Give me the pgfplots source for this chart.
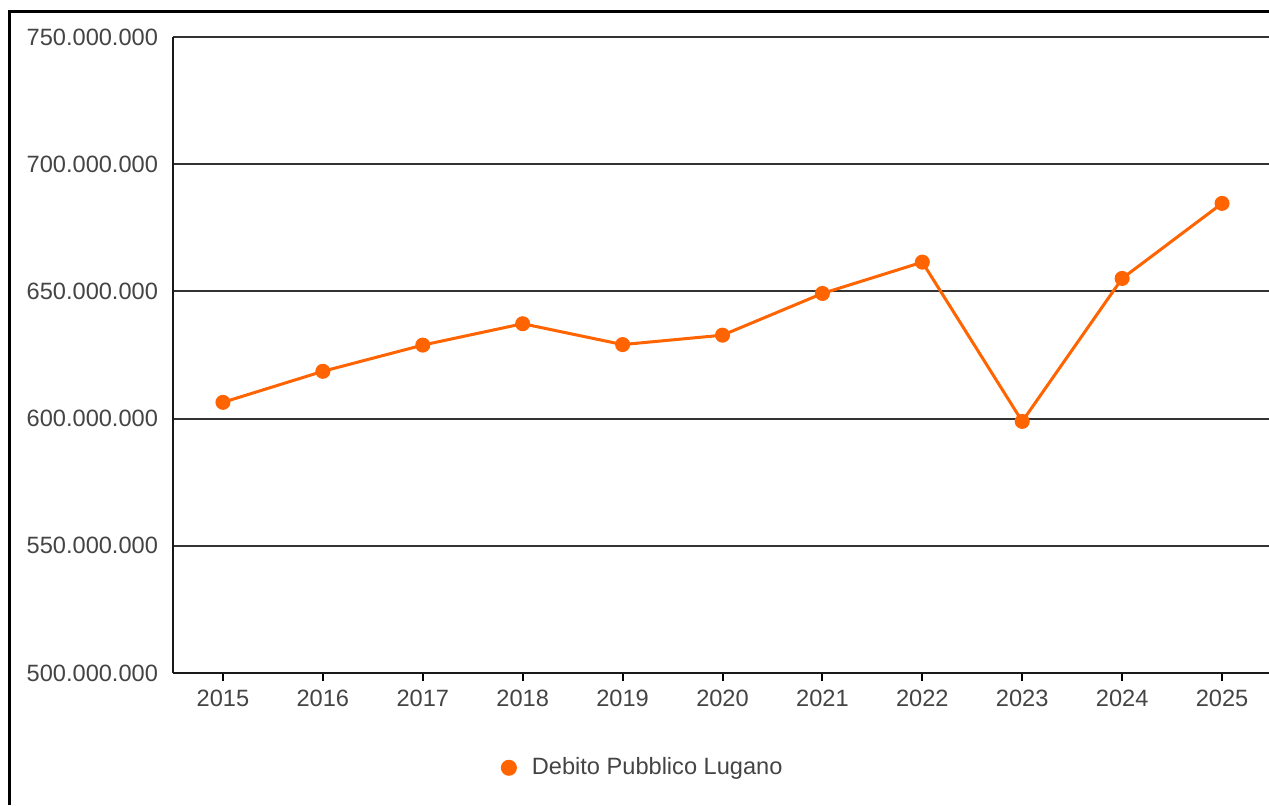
\documentclass[border=0pt]{standalone}
\usepackage{fontspec}
\setmainfont{Liberation Sans}
\usepackage{pgfplots}
\pgfplotsset{compat=1.18}
\definecolor{serie}{HTML}{FF6400}
\definecolor{testo}{HTML}{444444}

\begin{document}
\begin{tikzpicture}
    \useasboundingbox (0pt,0pt) rectangle (634.5pt,-402.5pt);
    % cornice esterna (tagliata a destra e in basso)
    \draw[line width=1.5pt] (4.5pt,-402.5pt) -- (4.5pt,-5.5pt) -- (634.5pt,-5.5pt);
    \begin{axis}[
        at={(86.5pt,-336.5pt)}, anchor=south west,
        scale only axis,
        width=549.5pt, height=318pt,
        xmin=2014.5, xmax=2025.5,
        ymin=500000000, ymax=750000000,
        xtick={2015,2016,2017,2018,2019,2020,2021,2022,2023,2024,2025},
        ytick={500000000,550000000,600000000,650000000,700000000,750000000},
        scaled y ticks=false,
        axis x line=bottom, axis y line=left,
        axis line style={-, black!90, line width=1pt},
        ymajorgrids,
        grid style={black!80, line width=1pt},
        tick align=outside,
        major tick length=4pt,
        xtick style={black, line width=1pt},
        ytick style={draw=none},
        /pgf/number format/assume math mode=true,
        tick label style={font=\fontsize{11.8}{14}\selectfont, text=testo},
        xticklabel style={/pgf/number format/1000 sep={}, yshift=-1pt},
        yticklabel style={/pgf/number format/.cd, fixed, precision=0, 1000 sep={.}},
        legend style={at={(axis description cs:0.298,-0.149)}, anchor=west,
            draw=none, fill=none, inner sep=0pt,
            font=\fontsize{11.8}{14}\selectfont, text=testo,
            /tikz/every odd column/.append style={column sep=5.5pt}},
        legend image code/.code={\fill[serie] (3.25pt,0pt) circle (3.25pt);},
        clip=false
    ]
    \addplot[color=serie, line width=1.5pt, mark=*, mark size=3pt,
             mark options={fill=serie, draw=serie}] coordinates {
        (2015, 606400000)
        (2016, 618600000)
        (2017, 628900000)
        (2018, 637300000)
        (2019, 629100000)
        (2020, 632800000)
        (2021, 649200000)
        (2022, 661500000)
        (2023, 598900000)
        (2024, 655100000)
        (2025, 684600000)
    };
    \legend{Debito Pubblico Lugano}
    \end{axis}
\end{tikzpicture}
\end{document}
